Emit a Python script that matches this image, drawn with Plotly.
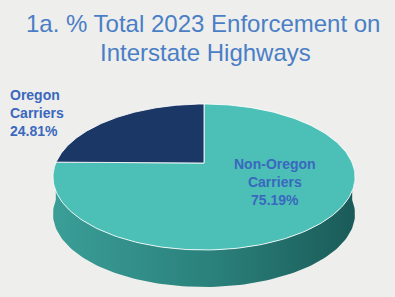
import numpy as np
import plotly.graph_objects as go

# ---- data ----
categories = ["Non-Oregon Carriers", "Oregon Carriers"]
shares = [75.19, 24.81]
label_lines = ["Non-Oregon<br>Carriers<br>75.19%", "Oregon<br>Carriers<br>24.81%"]
title_lines = ["1a. % Total 2023 Enforcement on", "Interstate Highways"]

# ---- styles / geometry (screen pixel space) ----
W, H = 395, 297
cx, cy, rx, ry = 204.0, 177.0, 151.0, 73.0   # top-face ellipse
ay = 163.0                                   # apex (perspective)
depth = 37.0
top_colors = ["#4cbfb7", "#1b3766"]
side_scale = [[0, "#3a9e97"], [0.55, "#2a7f7a"], [1, "#1a5b58"]]
bg = "#eeeeec"


def ray_point(theta_deg):
    t = np.radians(theta_deg)
    k = ry / rx
    dx, dy = np.cos(t), -np.sin(t) * k
    oy = ay - cy
    a = dx**2 / rx**2 + dy**2 / ry**2
    b = 2 * oy * dy / ry**2
    c = oy**2 / ry**2 - 1
    s = (-b + np.sqrt(b * b - 4 * a * c)) / (2 * a)
    return cx + s * dx, ay + s * dy


fig = go.Figure()

# slice angles: start at 12 o'clock, clockwise
total = sum(shares)
start = 90.0
spans = []
for v in shares:
    sweep = 360.0 * v / total
    spans.append((start, start - sweep))
    start -= sweep

# side wall (visible front half: theta in [-180, 0])
for (a0, a1), cat in zip(spans, categories):
    lo, hi = max(min(a0, a1), -180.0), min(max(a0, a1), 0.0)
    if hi - lo <= 0.5:
        continue
    th = np.linspace(hi, lo, 120)
    pts = [ray_point(t) for t in th]
    xs = [p[0] for p in pts]
    ys = [p[1] for p in pts]
    px = xs + xs[::-1] + [xs[0]]
    py = ys + [y + depth for y in ys[::-1]] + [ys[0]]
    fig.add_trace(go.Scatter(
        x=px, y=py, mode="lines", fill="toself",
        line=dict(width=0, color="rgba(0,0,0,0)"),
        fillgradient=dict(type="horizontal", colorscale=side_scale),
        hoverinfo="skip", showlegend=False))

# top faces
for (a0, a1), col, cat in zip(spans, top_colors, categories):
    th = np.linspace(a0, a1, 200)
    pts = [ray_point(t) for t in th]
    px = [cx] + [p[0] for p in pts] + [cx]
    py = [ay] + [p[1] for p in pts] + [ay]
    fig.add_trace(go.Scatter(
        x=px, y=py, mode="lines", fill="toself", fillcolor=col,
        line=dict(width=1, color="rgba(255,255,255,0.85)"),
        name=cat, hoverinfo="name", showlegend=False))

# labels
lab_font = dict(family="Liberation Sans", size=14, color="#3a68be")
fig.add_annotation(x=275, y=182, text="<b>" + label_lines[0] + "</b>",
                   showarrow=False, xref="x", yref="y", align="center",
                   font=lab_font)
fig.add_annotation(x=8, y=113, text="<b>" + label_lines[1] + "</b>",
                   showarrow=False, xref="x", yref="y", align="left",
                   xanchor="left", font=lab_font)

# title (two lines)
t_font = dict(family="Liberation Sans", size=24, color="#4a7ec6")
fig.add_annotation(x=203, y=23, text=title_lines[0], showarrow=False,
                   xref="x", yref="y", font=t_font)
fig.add_annotation(x=205, y=52, text=title_lines[1], showarrow=False,
                   xref="x", yref="y", font=t_font)

fig.update_layout(
    width=W, height=H,
    margin=dict(l=0, r=0, t=0, b=0),
    paper_bgcolor=bg, plot_bgcolor=bg,
    xaxis=dict(range=[0, W], visible=False, fixedrange=True),
    yaxis=dict(range=[H, 0], visible=False, fixedrange=True),
)

fig.write_html("out.html", config={"displayModeBar": False},
               post_script="document.body.style.margin='0';document.body.style.background='%s';" % bg)
